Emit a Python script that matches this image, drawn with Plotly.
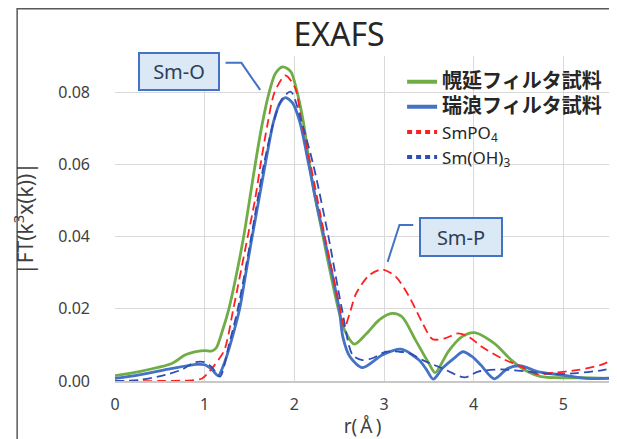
import plotly.graph_objects as go

# ---------------- data ----------------
x_horonobe = [0.0, 0.27, 0.64, 0.78, 0.92, 1.0, 1.08, 1.13, 1.19, 1.27, 1.35, 1.435, 1.5,
              1.57, 1.64, 1.72, 1.79, 1.87, 1.96, 2.02, 2.10, 2.16, 2.22, 2.32, 2.41, 2.49,
              2.56, 2.67, 2.80, 2.95, 3.09, 3.20, 3.35, 3.50, 3.57, 3.72, 3.87, 4.01,
              4.23, 4.42, 4.60, 4.75, 4.97, 5.20, 5.52]
y_horonobe = [0.0015, 0.0026, 0.0049, 0.0072, 0.0082, 0.0084, 0.0083, 0.0092, 0.0133, 0.020,
              0.029, 0.040, 0.050, 0.061, 0.071, 0.080, 0.0852, 0.0870, 0.0857, 0.0811,
              0.0718, 0.0615, 0.0525, 0.040, 0.029, 0.020, 0.0141, 0.0102, 0.0130, 0.0170,
              0.0187, 0.0178, 0.0114, 0.0049, 0.0023, 0.0083, 0.0123, 0.0134, 0.0104, 0.0058,
              0.0026, 0.0012, 0.0009, 0.0009, 0.0007]

x_mizunami = [0.0, 0.27, 0.64, 0.91, 1.0, 1.08, 1.15, 1.22, 1.30, 1.39, 1.46, 1.53, 1.61,
              1.69, 1.77, 1.84, 1.90, 1.98, 2.06, 2.16, 2.25, 2.33, 2.50, 2.54, 2.62, 2.76,
              2.98, 3.19, 3.39, 3.47, 3.55, 3.65, 3.79, 3.88, 3.98, 4.08, 4.23, 4.38, 4.53,
              4.71, 4.97, 5.26, 5.52]
y_mizunami = [0.0007, 0.0017, 0.0035, 0.0046, 0.0045, 0.0032, 0.0015, 0.0050, 0.0114, 0.020,
              0.030, 0.040, 0.051, 0.062, 0.072, 0.077, 0.0785, 0.0770, 0.0718, 0.060,
              0.0488, 0.040, 0.020, 0.0123, 0.0067, 0.0037, 0.0072, 0.0088, 0.0058, 0.0033,
              0.0005, 0.0035, 0.0065, 0.0081, 0.0068, 0.0044, 0.0006, 0.0035, 0.0042,
              0.0026, 0.0017, 0.0007, 0.0008]

x_smpo4 = [0.0, 0.5, 0.85, 0.97, 1.04, 1.11, 1.22, 1.32, 1.48, 1.56, 1.63, 1.70, 1.78, 1.90,
           2.01, 2.08, 2.18, 2.34, 2.45, 2.51, 2.56, 2.62, 2.69, 2.84, 2.98, 3.13, 3.28,
           3.43, 3.54, 3.68, 3.83, 3.96, 4.09, 4.31, 4.53, 4.71, 4.89, 5.15, 5.41, 5.52]
y_smpo4 = [0.0, 0.0, 0.0002, 0.0007, 0.0023, 0.0044, 0.0086, 0.020, 0.040, 0.050, 0.061,
           0.071, 0.080, 0.0846, 0.0811, 0.0718, 0.060, 0.040, 0.027, 0.020, 0.0148, 0.0190,
           0.0243, 0.0294, 0.0309, 0.0289, 0.0234, 0.0160, 0.0116, 0.0118, 0.0132, 0.0120,
           0.0095, 0.0063, 0.0040, 0.0019, 0.0023, 0.0030, 0.0044, 0.0055]

x_smoh3 = [0.0, 0.27, 0.56, 0.75, 0.89, 1.0, 1.08, 1.17, 1.27, 1.37, 1.52, 1.66, 1.77,
           1.86, 1.96, 2.08, 2.21, 2.38, 2.53, 2.65, 2.76, 2.87, 3.02, 3.17, 3.28, 3.43,
           3.65, 3.90, 4.05, 4.31, 4.60, 4.89, 5.15, 5.41, 5.52]
y_smoh3 = [0.0, 0.0003, 0.0017, 0.0032, 0.0052, 0.0052, 0.0038, 0.0012, 0.0100, 0.020,
           0.040, 0.060, 0.0718, 0.0780, 0.0801, 0.0718, 0.060, 0.040, 0.020, 0.0072,
           0.0058, 0.0063, 0.0081, 0.0081, 0.0077, 0.0058, 0.0035, 0.0010, 0.0026, 0.0032,
           0.0026, 0.0019, 0.0022, 0.0029, 0.0034]

series_names = ["幌延フィルタ試料", "瑞浪フィルタ試料", "SmPO<sub>4</sub>", "Sm(OH)<sub>3</sub>"]
y_ticks = [0.0, 0.02, 0.04, 0.06, 0.08]
x_ticks = [0, 1, 2, 3, 4, 5]

GREEN = "#70ad47"
BLUE = "#4472c4"
RED = "#ff1f1f"
NAVY = "#2f4db3"
FONT = "Noto Sans, Noto Sans CJK JP, sans-serif"
TXT = "#404040"

fig = go.Figure()

fig.add_trace(go.Scatter(x=x_horonobe, y=y_horonobe, mode="lines", line=dict(color=GREEN, width=2.8, shape="spline", smoothing=0.8), showlegend=False))
fig.add_trace(go.Scatter(x=x_mizunami, y=y_mizunami, mode="lines", line=dict(color=BLUE, width=2.8, shape="spline", smoothing=0.8), showlegend=False))
fig.add_trace(go.Scatter(x=x_smpo4, y=y_smpo4, mode="lines", line=dict(color=RED, width=1.8, dash="9px,5px", shape="spline", smoothing=0.8), showlegend=False))
fig.add_trace(go.Scatter(x=x_smoh3, y=y_smoh3, mode="lines", line=dict(color=NAVY, width=1.8, dash="9px,5px", shape="spline", smoothing=0.8), showlegend=False))

# legend entries
big = "<span style='font-size:20px'><b>%s</b></span>"
fig.add_trace(go.Scatter(x=[None], y=[None], mode="lines", name=big % series_names[0], line=dict(color=GREEN, width=4)))
fig.add_trace(go.Scatter(x=[None], y=[None], mode="lines", name=big % series_names[1], line=dict(color=BLUE, width=4)))
fig.add_trace(go.Scatter(x=[None], y=[None], mode="lines", name=series_names[2], line=dict(color=RED, width=4, dash="5px,4px")))
fig.add_trace(go.Scatter(x=[None], y=[None], mode="lines", name=series_names[3], line=dict(color=NAVY, width=4, dash="5px,4px")))

# callouts
for label, cx, cy, w, h in [("Sm-O", 0.716, 0.0858, 76, 33), ("Sm-P", 3.855, 0.0399, 78, 34)]:
    fig.add_annotation(x=cx, y=cy, xref="x", yref="y", text=label, showarrow=False,
                       font=dict(family=FONT, size=20, color="#2e3f55"),
                       bgcolor="#dbe8f5", bordercolor=BLUE, borderwidth=2, borderpad=1,
                       width=w, height=h, align="center", valign="middle")

fig.add_shape(type="path", xref="x", yref="y",
              path="M 1.233 0.0881 L 1.410 0.0881 L 1.619 0.0806",
              line=dict(color=BLUE, width=2))
fig.add_shape(type="path", xref="x", yref="y",
              path="M 3.326 0.0432 L 3.172 0.0432 L 3.040 0.0330",
              line=dict(color=BLUE, width=2))

# outer chart border
fig.add_shape(type="rect", xref="paper", yref="paper", x0=-0.1977, x1=1.05, y0=-0.23, y1=1.1454,
              line=dict(color="#595959", width=1.5), fillcolor="rgba(0,0,0,0)", layer="above")

fig.update_layout(
    width=609, height=431,
    margin=dict(l=100, r=7, t=48, b=58),
    paper_bgcolor="white", plot_bgcolor="white",
    font=dict(family=FONT, color=TXT),
    title=dict(text="EXAFS", x=0.5435, xanchor="center", y=0.937, yanchor="middle",
               font=dict(family=FONT, size=32, color="#262626")),
    legend=dict(x=0.580, y=0.975, xanchor="left", yanchor="top", bgcolor="rgba(0,0,0,0)",
                font=dict(family=FONT, size=17, color="#262626")),
    xaxis=dict(range=[0, 5.52], tickvals=x_ticks, showgrid=True, gridcolor="#d9d9d9", gridwidth=1.3,
               zeroline=False, showline=True, linecolor="#c8c8c8", linewidth=1.5, ticks="",
               tickfont=dict(size=16, color=TXT), ticklabelstandoff=8,
               title=dict(text="r(\u2009Å\u2009)", font=dict(family=FONT, size=19, color=TXT), standoff=0)),
    yaxis=dict(range=[0, 0.09], tickvals=y_ticks, tickformat=".2f", showgrid=True,
               gridcolor="#d9d9d9", gridwidth=1.3, zeroline=False, showline=False, ticks="",
               tickfont=dict(size=16, color=TXT), ticklabelstandoff=24,
               title=dict(text="|FT(k<sup>3</sup>x(k))|", font=dict(size=21, color=TXT), standoff=29)),
)

fig.write_html("out.html")
